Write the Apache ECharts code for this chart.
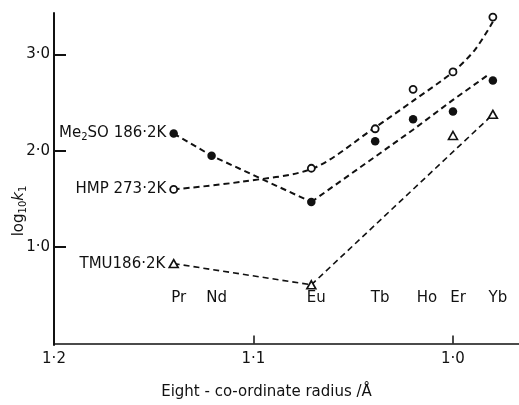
<!DOCTYPE html>
<html><head><meta charset="utf-8">
<script src="https://cdn.jsdelivr.net/npm/echarts@6/dist/echarts.min.js"></script>
<style>html,body{margin:0;padding:0;background:#fff}#c{width:519px;height:405px}</style>
</head><body><div id="c"></div>
<script>
// ---- data ----
const elements = ['Pr', 'Nd', 'Eu', 'Tb', 'Ho', 'Er', 'Yb'];
const radius = [1.140, 1.121, 1.071, 1.039, 1.020, 1.000, 0.980];
const me2so = [2.18, 1.95, 1.47, 2.10, 2.33, 2.41, 2.73];
const hmp = [1.60, null, 1.82, 2.23, 2.64, 2.82, 3.39];
const tmu = [0.83, null, 0.61, null, null, 2.16, 2.38];
// dashed trend curves [radius, log10 k1]
const me2soTrendA = [[1.140, 2.18], [1.121, 1.95], [1.071, 1.47]];
const me2soTrendB = [[1.071, 1.47], [1.039, 1.94], [1.020, 2.22], [1.000, 2.53], [0.983, 2.78]];
const hmpTrend = [[1.140, 1.60], [1.106, 1.68], [1.070, 1.82], [1.040, 2.23], [1.020, 2.52], [1.000, 2.82], [0.989, 3.05], [0.980, 3.34]];
const tmuTrendA = [[1.140, 0.83], [1.071, 0.61]];
const tmuTrendB = [[1.071, 0.61], [0.982, 2.34]];
const seriesLabels = ['Me{sub|2}SO 186·2K', 'HMP 273·2K', 'TMU186·2K'];
const xTickValues = [1.1, 1.0];
const xLabelValues = [1.2, 1.1, 1.0];
const yTickValues = [1, 2, 3];
const elementLabelLevel = 0.47;

// ---- chart ----
const FONT = 'DejaVu Sans';
const INK = '#111';
const fmt = v => v.toFixed(1).replace('.', '·');
const labelOffsets = { Ho: 14 };

function pointData(vals, label) {
  const out = [];
  vals.forEach((v, i) => {
    if (v == null) return;
    const item = { value: [radius[i], v] };
    if (out.length === 0) {
      item.label = {
        show: true, position: 'left', distance: 3,
        formatter: label, color: INK, fontFamily: FONT, fontSize: 15,
        rich: { sub: { fontSize: 10, fontFamily: FONT, color: INK, verticalAlign: 'bottom', padding: [8, 0, 0, 0] } }
      };
    }
    out.push(item);
  });
  return out;
}

function trend(data, width) {
  return {
    type: 'line', data: data, showSymbol: false, symbol: 'none', silent: true,
    lineStyle: { color: INK, width: width, type: [6, 4] }, z: 2
  };
}

const chart = echarts.init(document.getElementById('c'), null, { renderer: 'canvas' });
chart.setOption({
  animation: false,
  backgroundColor: '#fff',
  grid: { left: 54, right: 0, top: 13, bottom: 57, containLabel: false },
  xAxis: {
    type: 'value', inverse: true, min: 0.9669, max: 1.2,
    axisLine: { show: true, lineStyle: { color: INK, width: 1.5 } },
    axisTick: { show: true, inside: true, length: 8, customValues: xTickValues, lineStyle: { color: INK, width: 1.5 } },
    axisLabel: { customValues: xLabelValues, formatter: fmt, color: INK, fontFamily: FONT, fontSize: 15, margin: 7 },
    splitLine: { show: false },
    name: 'Eight - co-ordinate radius /Å', nameLocation: 'middle', nameGap: 40,
    nameTextStyle: { color: INK, fontFamily: FONT, fontSize: 15, padding: [0, 40, 0, 0] }
  },
  yAxis: {
    type: 'value', min: -0.015, max: 3.432,
    axisLine: { show: true, lineStyle: { color: INK, width: 2 } },
    axisTick: { show: true, inside: true, length: 12, customValues: yTickValues, lineStyle: { color: INK, width: 2 } },
    axisLabel: { customValues: yTickValues, formatter: fmt, color: INK, fontFamily: FONT, fontSize: 15, margin: 4 },
    splitLine: { show: false }
  },
  graphic: [{
    type: 'text', x: 19, y: 211, rotation: Math.PI / 2,
    style: {
      text: '{n|log}{s|10}{i|k}{s|1}', align: 'center', verticalAlign: 'middle',
      rich: {
        n: { fontFamily: FONT, fontSize: 15, fill: INK },
        i: { fontFamily: FONT, fontSize: 15, fontStyle: 'italic', fill: INK },
        s: { fontFamily: FONT, fontSize: 10, fill: INK, verticalAlign: 'bottom', padding: [8, 0, 0, 0] }
      }
    }
  }],
  series: [
    trend(me2soTrendA, 2),
    trend(me2soTrendB, 2),
    Object.assign(trend(hmpTrend, 2), { smooth: 0.3 }),
    trend(tmuTrendA, 1.6),
    trend(tmuTrendB, 1.6),
    {
      type: 'scatter', name: 'Me2SO', data: pointData(me2so, seriesLabels[0]),
      symbol: 'circle', symbolSize: 8.5, itemStyle: { color: INK, opacity: 1 }, z: 5
    },
    {
      type: 'scatter', name: 'HMP', data: pointData(hmp, seriesLabels[1]),
      symbol: 'circle', symbolSize: 7, itemStyle: { color: '#fff', borderColor: INK, borderWidth: 1.8, opacity: 1 }, z: 5
    },
    {
      type: 'scatter', name: 'TMU', data: pointData(tmu, seriesLabels[2]),
      symbol: 'triangle', symbolSize: [9, 8], itemStyle: { color: '#fff', borderColor: INK, borderWidth: 1.6, opacity: 1 }, z: 5
    },
    {
      type: 'scatter', name: 'elements', symbolSize: 0, silent: true,
      itemStyle: { opacity: 1 },
      data: elements.map((e, i) => ({
        value: [radius[i], elementLabelLevel], name: e,
        label: { offset: [labelOffsets[e] || 5, 0] }
      })),
      label: { show: true, position: 'inside', formatter: p => p.name, color: INK, fontFamily: FONT, fontSize: 15 }
    }
  ]
});
</script>
</body></html>
